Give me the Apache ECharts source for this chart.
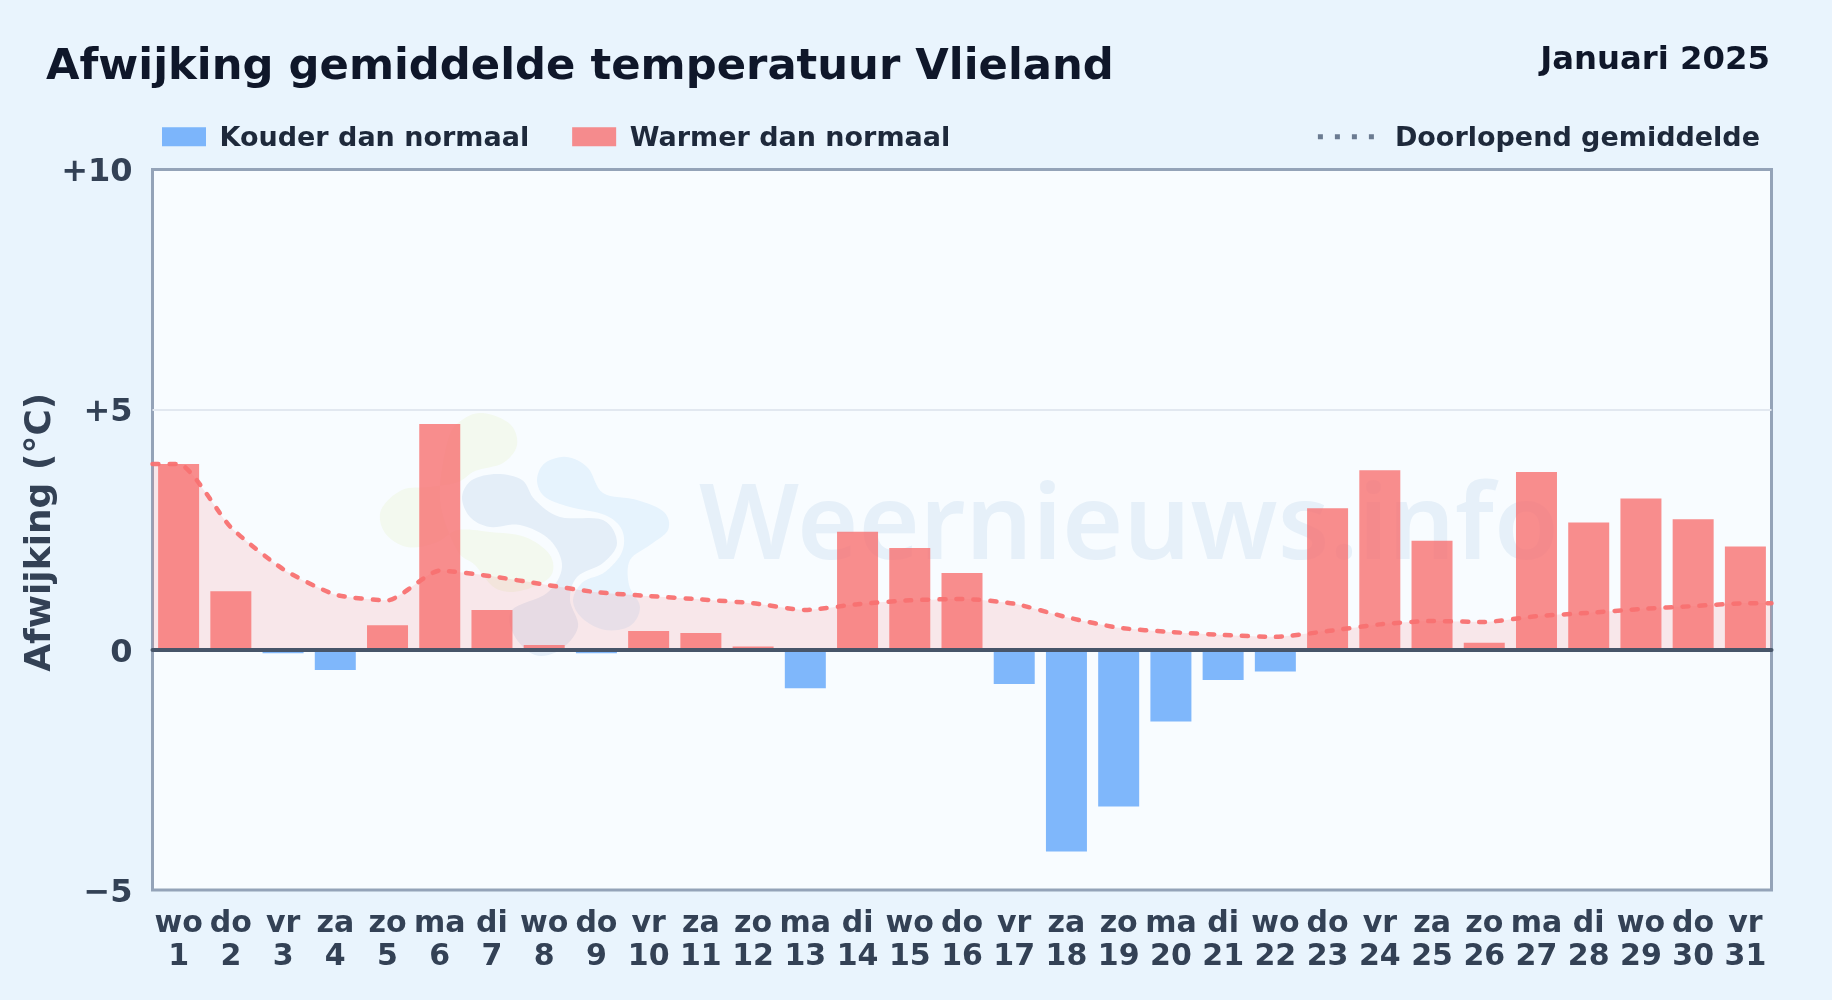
<!DOCTYPE html>
<html><head><meta charset="utf-8">
<style>html,body{margin:0;padding:0;background:#e9f4fd}#c{width:1832px;height:1000px}</style>
<script src="https://cdn.jsdelivr.net/npm/echarts@6/dist/echarts.min.js"></script>
</head><body><div id="c"></div>
<script>
const weekdays = ['wo','do','vr','za','zo','ma','di','wo','do','vr','za','zo','ma','di','wo','do','vr','za','zo','ma','di','wo','do','vr','za','zo','ma','di','wo','do','vr'];
const days = [1,2,3,4,5,6,7,8,9,10,11,12,13,14,15,16,17,18,19,20,21,22,23,24,25,26,27,28,29,30,31];
const colder = [null,null,-0.07,-0.42,null,null,null,null,-0.07,null,null,null,-0.8,null,null,null,-0.71,-4.2,-3.26,-1.49,-0.63,-0.45,null,null,null,null,null,null,null,null,null];
const warmer = [3.87,1.22,null,null,0.51,4.7,0.83,0.1,null,0.39,0.35,0.07,null,2.46,2.12,1.6,null,null,null,null,null,null,2.95,3.74,2.27,0.15,3.7,2.65,3.15,2.72,2.15];
const runX = [0.5,1,2,3,4,5,6,7,8,9,10,11,12,13,14,15,16,17,18,19,20,21,22,23,24,25,26,27,28,29,30,31,31.5];
const runY = [3.87,3.87,2.55,1.68,1.15,1.03,1.65,1.53,1.36,1.2,1.12,1.05,0.97,0.83,0.95,1.03,1.06,0.96,0.68,0.46,0.37,0.31,0.27,0.39,0.53,0.6,0.58,0.7,0.77,0.85,0.91,0.97,0.97];
const yTicks = {'10':'+10','5':'+5','0':'0','-5':'\u22125'};

// closed smooth outline (Catmull-Rom) through the given logo outline points
function blob(p){
  const n=p.length, out=[];
  for(let i=0;i<n;i++){
    const a=p[(i-1+n)%n],b=p[i],c=p[(i+1)%n],e=p[(i+2)%n];
    for(let k=0;k<8;k++){
      const t=k/8,t2=t*t,t3=t2*t;
      out.push([0,1].map(j=>0.5*(2*b[j]+(c[j]-a[j])*t+(2*a[j]-5*b[j]+4*c[j]-e[j])*t2+(3*b[j]-a[j]-3*c[j]+e[j])*t3)));
    }
  }
  return out;
}
const logoGreen=[[483,413],[510,424],[517,445],[503,463],[475,471],[458,482],[430,487],[402,490],[381,510],[385,533],[407,547],[435,543],[458,530],[490,532],[525,537],[550,555],[550,577],[520,591],[495,588],[475,565],[457,550],[440,500],[448,440],[462,420]];
const logoSky=[[537,480],[545,463],[567,457],[588,468],[603,493],[637,500],[664,512],[668,530],[650,545],[630,560],[629,585],[640,607],[630,626],[605,630],[582,618],[573,600],[583,582],[605,572],[622,552],[622,530],[605,515],[570,507],[545,497]];
const logoNavy=[[462,497],[472,480],[497,474],[522,480],[535,500],[560,517],[603,520],[617,543],[603,563],[577,577],[570,600],[578,627],[560,650],[535,655],[514,635],[512,610],[547,593],[562,567],[550,540],[520,525],[490,527],[470,517]];

const F = 'DejaVu Sans';
const legendRich = pad => ({t:{fontFamily:F,fontWeight:'bold',fontSize:27,color:'#1e293b',padding:pad}});
const chart = echarts.init(document.getElementById('c'), null, {renderer:'canvas'});
chart.setOption({
  animation:false,
  backgroundColor:'#e9f4fd',
  textStyle:{fontFamily:F},
  title:[
    {text:'Afwijking gemiddelde temperatuur Vlieland',left:46,top:46,padding:0,textStyle:{fontFamily:F,fontWeight:'bold',fontSize:43.3,color:'#0f172a'}},
    {text:'Januari 2025',right:62,top:45,padding:0,textStyle:{fontFamily:F,fontWeight:'bold',fontSize:32.3,color:'#0f172a'}}
  ],
  legend:[
    {left:162,top:125.3,padding:0,itemWidth:44,itemHeight:19,itemGap:43,formatter:'{t|{name}}',
     textStyle:{rich:legendRich([4,0,0,8.5])},
     data:[{name:'Kouder dan normaal',icon:'rect'},{name:'Warmer dan normaal',icon:'rect'}]},
    {right:72,top:125.3,padding:0,itemWidth:56,itemHeight:5,formatter:'{t|{name}}',
     textStyle:{rich:legendRich([4,0,0,16])},
     data:[{name:'Doorlopend gemiddelde',
            icon:'path://M0 0h5v5H0zM17 0h5v5h-5zM34 0h5v5h-5zM51 0h5v5h-5z',
            itemStyle:{color:'#64748b',opacity:0.95}}]}
  ],
  grid:{left:152.5,right:60.5,top:169.5,height:720.5,show:true,backgroundColor:'#f8fcff',borderColor:'#94a3b8',borderWidth:3,containLabel:false},
  xAxis:[
    {type:'category',data:weekdays.map((w,i)=>w+'\n'+days[i]),position:'bottom',
     axisLine:{show:false,onZero:false},axisTick:{show:false},splitLine:{show:false},
     axisLabel:{interval:0,hideOverlap:false,margin:17,fontFamily:F,fontWeight:'bold',fontSize:30,lineHeight:33.5,color:'#334155'}},
    {type:'value',min:0.5,max:31.5,position:'bottom',z:5,
     axisLine:{show:true,onZero:true,lineStyle:{color:'#475569',width:4}},axisTick:{show:false},axisLabel:{show:false},splitLine:{show:false}}
  ],
  yAxis:{type:'value',min:-5,max:10,interval:5,name:'Afwijking (°C)',nameLocation:'middle',nameGap:94,nameMoveOverlap:false,
    nameTextStyle:{fontFamily:F,fontWeight:'bold',fontSize:36,color:'#334155',padding:[0,5,0,0]},
    axisLine:{show:false},axisTick:{show:false},
    axisLabel:{margin:20,formatter:v=>'{a|'+yTicks[String(v)]+'}',
      rich:{a:{fontFamily:F,fontWeight:'bold',fontSize:32,color:'#334155',padding:[7,0,0,0]}}},
    splitLine:{show:true,showMinLine:false,showMaxLine:false,lineStyle:{color:'#e2e8f0',width:2}}},
  graphic:[
    {type:'polygon',z:1,silent:true,shape:{points:blob(logoGreen)},style:{fill:'#f3f9ef'}},
    {type:'polygon',z:1,silent:true,shape:{points:blob(logoSky)},style:{fill:'#e6f3fd'}},
    {type:'polygon',z:1,silent:true,shape:{points:blob(logoNavy)},style:{fill:'#e4eef8'}},
    {type:'text',z:1,silent:true,left:699,top:477,style:{text:'Weernieuws.info',font:'600 105px "Noto Sans"',fill:'#e6f0f9'}}
  ],
  series:[
    {name:'Doorlopend gemiddelde',type:'line',xAxisIndex:1,yAxisIndex:0,z:4,
     data:runX.map((x,i)=>[x,runY[i]]),smooth:0.2,symbol:'none',clip:true,
     lineStyle:{color:'#f87171',width:4.5,type:[6,11],cap:'round',opacity:0.95},
     areaStyle:{color:'#f87171',opacity:0.15},
     itemStyle:{color:'#64748b'}},
    {name:'Kouder dan normaal',type:'bar',stack:'d',xAxisIndex:0,data:colder,barCategoryGap:'21.5%',z:3,itemStyle:{color:'#60a5fa',opacity:0.8}},
    {name:'Warmer dan normaal',type:'bar',stack:'d',xAxisIndex:0,data:warmer,barCategoryGap:'21.5%',z:3,itemStyle:{color:'#f87171',opacity:0.8}}
  ]
});
</script></body></html>
